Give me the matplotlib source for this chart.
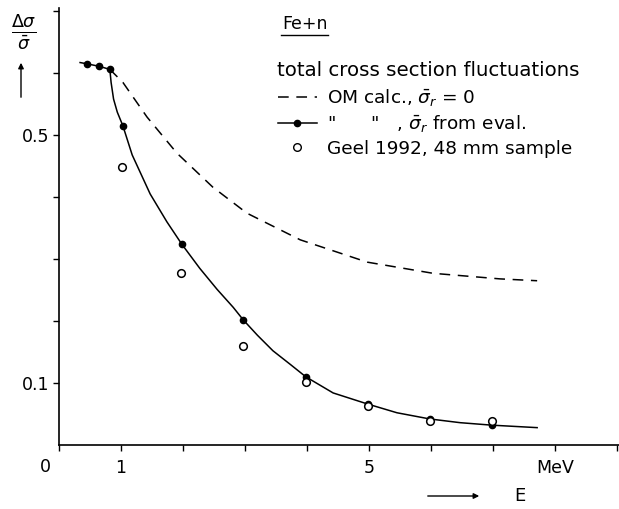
import matplotlib
matplotlib.use("Agg")
import matplotlib.pyplot as plt
from matplotlib.lines import Line2D

# OM calc., sigma_r = 0 (dashed)
om_x = [0.82, 1.03, 1.42, 1.90, 2.48, 3.03, 3.89, 4.97, 6.03, 7.11, 7.71]
om_y = [0.606, 0.585, 0.529, 0.471, 0.416, 0.374, 0.331, 0.295, 0.277, 0.268, 0.265]

# OM calc., sigma_r from eval. (solid curve)
ev_x = [0.34, 0.45, 0.645, 0.82, 0.84, 0.88, 0.94, 1.03, 1.18, 1.47, 1.74, 1.98, 2.27,
        2.55, 2.81, 2.97, 3.20, 3.45, 3.73, 3.98, 4.42, 4.98, 5.45, 5.98, 6.47, 6.98, 7.71]
ev_y = [0.617, 0.615, 0.611, 0.606, 0.585, 0.558, 0.537, 0.515, 0.468, 0.405, 0.360, 0.324, 0.285,
        0.251, 0.222, 0.202, 0.177, 0.152, 0.130, 0.110, 0.084, 0.066, 0.052, 0.042, 0.036, 0.032, 0.028]
# calculated points on that curve
dot_x = [0.45, 0.645, 0.82, 1.03, 1.98, 2.97, 3.98, 4.98, 5.98, 6.98]
dot_y = [0.615, 0.611, 0.606, 0.515, 0.324, 0.202, 0.110, 0.066, 0.042, 0.032]

# Geel 1992, 48 mm sample
geel_x = [1.02, 1.97, 2.97, 3.98, 4.98, 5.98, 6.98]
geel_y = [0.449, 0.277, 0.160, 0.102, 0.063, 0.039, 0.039]

W, H = 619, 509
fig = plt.figure(figsize=(W / 100, H / 100), dpi=100)
ax = fig.add_axes([59 / W, 64 / H, 560 / W, 437 / H])

ax.plot(om_x, om_y, color="black", lw=1.1, ls=(0, (7, 5)))
ax.plot(ev_x, ev_y, color="black", lw=1.1)
ax.plot(dot_x, dot_y, "o", color="black", ms=4.5)
ax.plot(geel_x, geel_y, "o", mfc="white", mec="black", mew=1.1, ms=5.5)

ax.set_xlim(0, 9.03)
ax.set_ylim(0, 0.705)
ax.spines["top"].set_visible(False)
ax.spines["right"].set_visible(False)
for s in ["left", "bottom"]:
    ax.spines[s].set_linewidth(1.2)

ax.set_xticks(range(10))
ax.set_xticklabels(["", "1", "", "", "", "5", "", "", "MeV", ""], fontsize=12.5)
ax.set_yticks([0.1, 0.2, 0.3, 0.4, 0.5, 0.6, 0.7])
ax.set_yticklabels(["0.1", "", "", "", "0.5", "", ""], fontsize=12.5)
ax.tick_params(direction="out", length=4, width=1)
ax.tick_params(axis="x", pad=6)
ax.tick_params(axis="y", pad=3)

# legend
h_om = Line2D([], [], color="black", lw=1.1, ls=(0, (7, 5)))
h_ev = Line2D([], [], color="black", lw=1.1, marker="o", ms=4.5)
h_ge = Line2D([], [], ls="none", marker="o", mfc="white", mec="black", ms=5.5)
ax.legend([h_om, h_ev, h_ge],
          [r"OM calc., $\bar{\sigma}_r$ = 0",
           r'"      "   , $\bar{\sigma}_r$ from eval.',
           "Geel 1992, 48 mm sample"],
          loc="upper left", bbox_to_anchor=(278 / W, 1 - 87 / H),
          bbox_transform=fig.transFigure, frameon=False, fontsize=13.3,
          handlelength=2.1, handletextpad=0.55, labelspacing=0.29,
          borderpad=0, borderaxespad=0)

# overlay in pixel coordinates for free text
ov = fig.add_axes([0, 0, 1, 1])
ov.set_xlim(0, W)
ov.set_ylim(H, 0)
ov.axis("off")

ov.text(282, 24, "Fe+n", fontsize=12.5, va="center", ha="left")
ov.plot([281, 328], [35, 35], color="black", lw=1)
ov.text(277, 70, "total cross section fluctuations", fontsize=14.2, va="center", ha="left")

ov.text(45, 467, "0", fontsize=12.5, va="center", ha="center")
ov.text(24, 33, r"$\frac{\Delta\sigma}{\bar{\sigma}}$", fontsize=18, va="center", ha="center")
ov.annotate("", xy=(21, 60), xytext=(21, 100),
            arrowprops=dict(arrowstyle="-|>", color="black", lw=1, mutation_scale=8))
ov.annotate("", xy=(482, 496), xytext=(425, 496),
            arrowprops=dict(arrowstyle="-|>", color="black", lw=1, mutation_scale=8))
ov.text(520, 496, "E", fontsize=13, va="center", ha="center")

fig.savefig("out.png", dpi=100)
